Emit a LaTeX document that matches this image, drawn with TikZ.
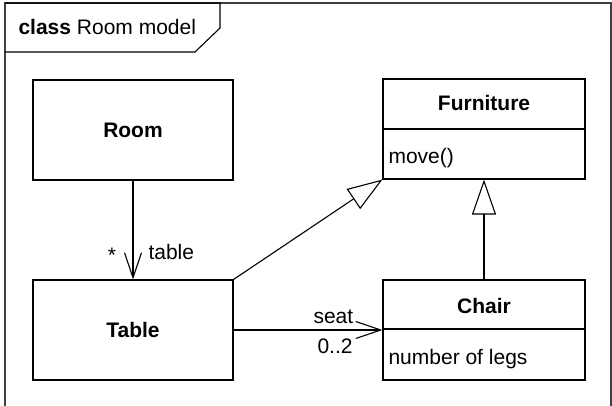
\documentclass[tikz,border=0pt]{standalone}
\usepackage{fontspec}
\setmainfont{Liberation Sans}
\usetikzlibrary{arrows.meta}
\begin{document}
\begin{tikzpicture}[x=1pt,y=-1pt,line width=1.1pt,
  every node/.style={font=\fontsize{21}{25}\selectfont, inner sep=0pt},
  classbox/.style={draw, rectangle, minimum width=200pt, minimum height=100pt},
  assoc/.style={-{Straight Barb[length=25pt,width=17pt,line width=1.1pt]}},
  gen/.style={-{Triangle[open,length=35pt,width=24pt,line width=1.1pt,fill=white]}},
  lbl/.style={anchor=base west}]
\useasboundingbox (0,0) rectangle (612,406);
% frame (runs past the right and bottom edges)
\draw[black!75] (5,412) -- (5,3) -- (611,3) -- (611,412);
\draw (5,3) -- (220,3) -- (220,28) -- (195,52) -- (5,52);
\node[lbl] (title) at (18,35) {\textbf{class} Room model};
% classes
\node[classbox] (room) at (133,130) {\textbf{Room}};
\node[classbox] (table) at (133,330) {\textbf{Table}};
\node[classbox, minimum width=202pt] (furn) at (484,129) {};
\draw (furn.west |- 0,129) coordinate (fd1) -- (furn.east |- 0,129) coordinate (fd2);
\node (furnname) at (484,103) {\textbf{Furniture}};
\node[lbl] (furnop) at (388,164) {move()};
\node[classbox, minimum width=202pt] (chair) at (484,330) {};
\draw (chair.west |- 0,329) coordinate (cd1) -- (chair.east |- 0,329) coordinate (cd2);
\node (chairname) at (484,306) {\textbf{Chair}};
\node[lbl] (chairattr) at (388,364) {number of legs};
% connectors
\draw[assoc] (room.south) -- (table.north);
\node[anchor=base] (mult1) at (112,262) {*};
\node[lbl] (role1) at (148,259) {table};
\draw[assoc] (table.east) -- (chair.west);
\node[lbl] (role2) at (313,323) {seat};
\node[lbl] (mult2) at (317,353) {0..2};
\draw[gen] (table.north east) -- (furn.south west);
\draw[gen] (chair.north) -- (furn.south);
\end{tikzpicture}
\end{document}
